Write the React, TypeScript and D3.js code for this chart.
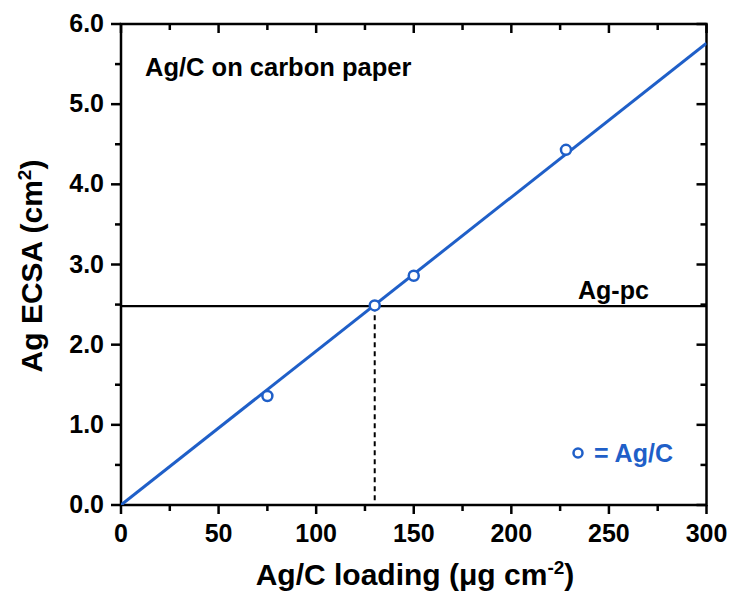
import React from "react";
import * as d3 from "d3";

const xTicks = [0, 50, 100, 150, 200, 250, 300];
const yTicks = [0, 1, 2, 3, 4, 5, 6];
const loading = [75, 130, 150, 228];
const ecsa = [1.36, 2.49, 2.86, 4.43];
const fitSlope = [0.0192];
const agPc = [2.48];
const crossX = [130];

const W = 732, H = 592;
const L = 121, R = 706.5, T = 24, B = 505;
const BLUE = "#1f5fc8";
const FONT = "'Liberation Sans', Arial, sans-serif";

export default function App() {
  const x = d3.scaleLinear().domain([0, 300]).range([L, R]);
  const y = d3.scaleLinear().domain([0, 6]).range([B, T]);
  const line = d3.line<[number, number]>().x(d => x(d[0])).y(d => y(d[1]));
  const fit: [number, number][] = [[0, 0], [300, 300 * fitSlope[0]]];
  const xMinor = d3.range(25, 300, 50);
  const yMinor = d3.range(0.5, 6, 1);
  return (
    <svg width={W} height={H} style={{ position: "absolute", left: 0, top: 0, background: "#fff" }} fontFamily={FONT}>
      <defs>
        <clipPath id="clip"><rect x={L} y={T} width={R - L} height={B - T} /></clipPath>
      </defs>
      <rect x={L} y={T} width={R - L} height={B - T} fill="none" stroke="#000" strokeWidth={2.5} />
      {xTicks.map(t => (
        <g key={"xb" + t}>
          <line x1={x(t)} x2={x(t)} y1={B} y2={B + 9} stroke="#000" strokeWidth={2.5} />
          <line x1={x(t)} x2={x(t)} y1={T} y2={T + 9} stroke="#000" strokeWidth={2.5} />
          <text x={x(t)} y={542} textAnchor="middle" fontSize={25} fontWeight="bold">{t}</text>
        </g>
      ))}
      {xMinor.map(t => (
        <g key={"xm" + t}>
          <line x1={x(t)} x2={x(t)} y1={B} y2={B + 6} stroke="#000" strokeWidth={2.5} />
          <line x1={x(t)} x2={x(t)} y1={T} y2={T + 6} stroke="#000" strokeWidth={2.5} />
        </g>
      ))}
      {yTicks.map(t => (
        <g key={"y" + t}>
          <line x1={L - 10} x2={L} y1={y(t)} y2={y(t)} stroke="#000" strokeWidth={2.5} />
          <line x1={R - 10} x2={R} y1={y(t)} y2={y(t)} stroke="#000" strokeWidth={2.5} />
          <text x={104} y={y(t) + 8} textAnchor="end" fontSize={25} fontWeight="bold">{t.toFixed(1)}</text>
        </g>
      ))}
      {yMinor.map(t => (
        <g key={"ym" + t}>
          <line x1={L - 6} x2={L} y1={y(t)} y2={y(t)} stroke="#000" strokeWidth={2.5} />
          <line x1={R - 6} x2={R} y1={y(t)} y2={y(t)} stroke="#000" strokeWidth={2.5} />
        </g>
      ))}
      <line x1={L} x2={R} y1={y(agPc[0])} y2={y(agPc[0])} stroke="#000" strokeWidth={2.2} />
      <line x1={x(crossX[0])} x2={x(crossX[0])} y1={y(agPc[0])} y2={B} stroke="#000" strokeWidth={2} strokeDasharray="5,4" />
      <path d={line(fit) || ""} fill="none" stroke={BLUE} strokeWidth={3} clipPath="url(#clip)" />
      {loading.map((v, i) => (
        <circle key={i} cx={x(v)} cy={y(ecsa[i])} r={5} fill="#fff" stroke={BLUE} strokeWidth={2.5} />
      ))}
      <text x={145} y={76} fontSize={25.5} fontWeight="bold">Ag/C on carbon paper</text>
      <text x={578} y={299} fontSize={25} fontWeight="bold">Ag-pc</text>
      <circle cx={578} cy={453} r={4.5} fill="#fff" stroke={BLUE} strokeWidth={2.5} />
      <text x={594} y={462} fontSize={25} fontWeight="bold" fill={BLUE}>= Ag/C</text>
      <text x={415} y={585} textAnchor="middle" fontSize={30} fontWeight="bold">
        Ag/C loading (μg cm<tspan dy={-11} fontSize={19}>-2</tspan><tspan dy={11}>)</tspan>
      </text>
      <text transform={`translate(42,266) rotate(-90)`} textAnchor="middle" fontSize={30} fontWeight="bold">
        Ag ECSA (cm<tspan dy={-11} fontSize={19}>2</tspan><tspan dy={11}>)</tspan>
      </text>
    </svg>
  );
}
